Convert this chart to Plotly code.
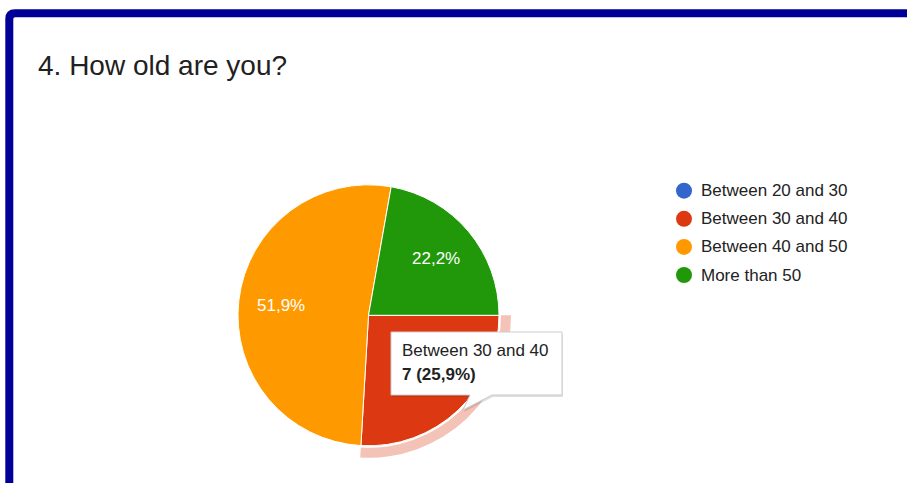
import math
import plotly.graph_objects as go

# Survey results: "4. How old are you?"
categories = ["Between 20 and 30", "Between 30 and 40", "Between 40 and 50", "More than 50"]
counts = [0, 7, 14, 6]
colors = ["#3366cc", "#dc3912", "#ff9900", "#21970a"]
title_text = "4. How old are you?"
highlighted = "Between 30 and 40"

W, H = 907, 483
FONT = "Liberation Sans, Arial, sans-serif"


def px(x):
    return x / W


def py(y):
    return 1 - y / H


total = sum(counts)


def pct_label(v):
    return f"{100 * v / total:.1f}%".replace(".", ",")


# pie geometry (pixels)
cx, cy, r = 368.5, 315.3, 130.5
start_deg = 90  # first slice starts at 3 o'clock, slices run clockwise
halo_in, halo_out = r + 2.0, r + 12.0
hi = categories.index(highlighted)

fig = go.Figure()

# hover halo ring behind the highlighted slice
halo_colors = ["rgba(0,0,0,0)"] * len(categories)
halo_colors[hi] = "rgba(220,57,18,0.30)"
fig.add_trace(go.Pie(
    labels=categories, values=counts, sort=False, direction="clockwise", rotation=start_deg,
    marker=dict(colors=halo_colors, line=dict(width=0)),
    hole=halo_in / halo_out, textinfo="none", hoverinfo="skip", showlegend=False,
    domain=dict(x=[px(cx - halo_out), px(cx + halo_out)],
                y=[py(cy + halo_out), py(cy - halo_out)]),
))

fig.add_trace(go.Pie(
    labels=categories, values=counts, sort=False, direction="clockwise", rotation=start_deg,
    marker=dict(colors=colors, line=dict(color="white", width=1)),
    textinfo="none", showlegend=False,
    domain=dict(x=[px(cx - r), px(cx + r)], y=[py(cy + r), py(cy - r)]),
))

shapes = []
annotations = []

# percentage labels inside the slices (the highlighted one is under the tooltip)
cum = 0
for i, v in enumerate(counts):
    mid = math.radians(start_deg + 360 * (cum + v / 2) / total)
    cum += v
    if v == 0 or i == hi:
        continue
    lr = 0.675 * r
    annotations.append(dict(
        x=px(cx + lr * math.sin(mid)), y=py(cy - lr * math.cos(mid)),
        xref="paper", yref="paper", xanchor="center", yanchor="middle",
        text=pct_label(v), showarrow=False, font=dict(family=FONT, size=17, color="white"),
    ))

# frame
shapes.append(dict(
    type="path", xref="paper", yref="paper",
    path=f"M {px(9.3)},{py(520)} L {px(9.3)},{py(19)} Q {px(9.3)},{py(13.3)} {px(15)},{py(13.3)} L {px(930)},{py(13.3)}",
    line=dict(color="#000099", width=8), fillcolor="rgba(0,0,0,0)",
))

# title
annotations.append(dict(
    x=px(36), y=py(65), xref="paper", yref="paper", xanchor="left", yanchor="middle",
    text=title_text, showarrow=False, font=dict(family=FONT, size=28, color="#212121"),
))

# legend
leg_x, leg_y0, leg_dy, dot_r = 684, 190.7, 28.1, 8
for i, (name, col) in enumerate(zip(categories, colors)):
    yy = leg_y0 + i * leg_dy
    shapes.append(dict(
        type="circle", xref="paper", yref="paper",
        x0=px(leg_x - dot_r), x1=px(leg_x + dot_r), y0=py(yy + dot_r), y1=py(yy - dot_r),
        fillcolor=col, line=dict(width=0),
    ))
    annotations.append(dict(
        x=px(699), y=py(yy), xref="paper", yref="paper", xanchor="left", yanchor="middle",
        text=name, showarrow=False, font=dict(family=FONT, size=17, color="#222222"),
    ))

# tooltip for the highlighted slice
bx0, by0, bx1, by1 = 391, 332, 562, 395
tail = [(470, by1), (463, 410), (492, by1)]


def box_path(dx=0.0, dy=0.0):
    pts = [(bx0, by0), (bx1, by0), (bx1, by1), tail[2], tail[1], tail[0], (bx0, by1)]
    s = " L ".join(f"{px(x + dx)},{py(y + dy)}" for x, y in pts)
    return f"M {s} Z"


shapes.append(dict(type="path", xref="paper", yref="paper", path=box_path(1, 2),
                   fillcolor="rgba(0,0,0,0.12)", line=dict(width=0), layer="above"))
shapes.append(dict(type="path", xref="paper", yref="paper", path=box_path(),
                   fillcolor="white", line=dict(color="#cccccc", width=1), layer="above"))
annotations.append(dict(
    x=px(400), y=py(350), xref="paper", yref="paper", xanchor="left", yanchor="middle",
    text=highlighted, showarrow=False, font=dict(family=FONT, size=17, color="#222222"),
))
annotations.append(dict(
    x=px(400), y=py(374), xref="paper", yref="paper", xanchor="left", yanchor="middle",
    text=f"<b>{counts[hi]} ({pct_label(counts[hi])})</b>", showarrow=False,
    font=dict(family=FONT, size=17, color="#222222"),
))

fig.update_layout(
    width=W, height=H, margin=dict(l=0, r=0, t=0, b=0),
    paper_bgcolor="white", plot_bgcolor="white",
    shapes=shapes, annotations=annotations,
)

fig.write_html("out.html")
